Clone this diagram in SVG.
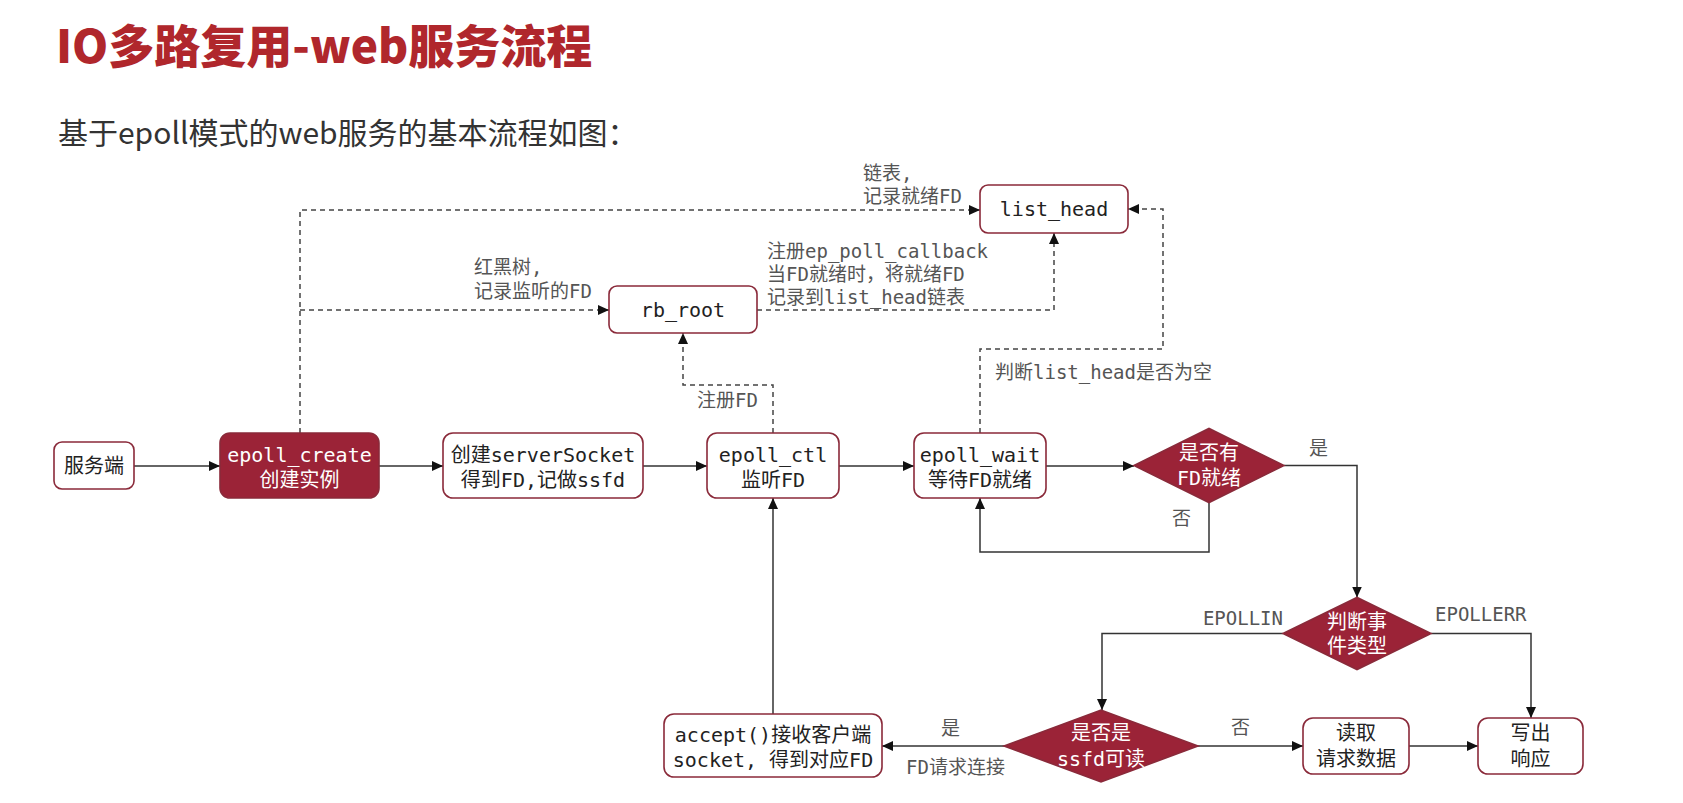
<svg xmlns="http://www.w3.org/2000/svg" width="1683" height="803" viewBox="0 0 1683 803">
<defs>
<marker id="ah" markerUnits="userSpaceOnUse" markerWidth="12" markerHeight="10" refX="11" refY="5" orient="auto">
<path d="M0,0 L11,5 L0,10 z" fill="#111"/>
</marker>
<style>
.title{font-family:"Noto Sans CJK SC","Noto Sans",sans-serif;font-weight:900;font-size:46px;fill:#b0272c}
.sub{font-family:"Noto Sans CJK SC","Noto Sans",sans-serif;font-size:30px;fill:#333}
.box{fill:#fff;stroke:#8a2a3a;stroke-width:1.6}
.dark{fill:#9b2337;stroke:#8a2a3a;stroke-width:1.6}
.t{font-family:"DejaVu Sans Mono","Noto Sans CJK SC",monospace;font-size:20px;fill:#222;text-anchor:middle}
.tw{font-family:"DejaVu Sans Mono","Noto Sans CJK SC",monospace;font-size:20px;fill:#fff;text-anchor:middle}
.lbl{font-family:"DejaVu Sans Mono","Noto Sans CJK SC",monospace;font-size:19px;fill:#555}
.ln{fill:none;stroke:#333;stroke-width:1.5;marker-end:url(#ah)}
.dl{fill:none;stroke:#444;stroke-width:1.5;stroke-dasharray:5 4;marker-end:url(#ah)}
.dn{fill:none;stroke:#444;stroke-width:1.5;stroke-dasharray:5 4}
</style>
</defs>
<rect width="1683" height="803" fill="#fff"/>
<text class="title" x="56" y="63">IO多路复用-web服务流程</text>
<text class="sub" x="58" y="144">基于epoll模式的web服务的基本流程如图：</text>

<g id="connectors">
<path class="ln" d="M134,466 H220"/>
<path class="ln" d="M379,466 H443"/>
<path class="ln" d="M643,466 H707"/>
<path class="ln" d="M839,466 H914"/>
<path class="ln" d="M1046,466 H1134"/>
<path class="ln" d="M1284,465.5 H1357 V597.5"/>
<path class="ln" d="M1209,502.5 V552 H980 V498"/>
<path class="ln" d="M1283,633.5 H1102 V710"/>
<path class="ln" d="M1431,633.5 H1531 V718"/>
<path class="ln" d="M1004,746 H882"/>
<path class="ln" d="M1198,746 H1303"/>
<path class="ln" d="M1409,746 H1478"/>
<path class="ln" d="M773,714 V498"/>
<path class="dl" d="M300,433 V210 H980"/>
<path class="dl" d="M300,310 H609"/>
<path class="dl" d="M757,310 H1054 V233"/>
<path class="dl" d="M773,433 V385 H683 V333"/>
<path class="dl" d="M980,433 V349 H1163 V209 H1128"/>
<text class="lbl" x="863" y="180">链表,</text>
<text class="lbl" x="863" y="203">记录就绪FD</text>
<text class="lbl" x="474" y="274">红黑树,</text>
<text class="lbl" x="474" y="298">记录监听的FD</text>
<text class="lbl" x="767" y="258">注册ep_poll_callback</text>
<text class="lbl" x="767" y="281">当FD就绪时，将就绪FD</text>
<text class="lbl" x="767" y="304">记录到list_head链表</text>
<text class="lbl" x="758" y="407" text-anchor="end">注册FD</text>
<text class="lbl" x="995" y="379">判断list_head是否为空</text>
<text class="lbl" x="1309" y="455">是</text>
<text class="lbl" x="1172" y="525">否</text>
<text class="lbl" x="1283" y="625" text-anchor="end">EPOLLIN</text>
<text class="lbl" x="1435" y="621">EPOLLERR</text>
<text class="lbl" x="941" y="735">是</text>
<text class="lbl" x="1231" y="734">否</text>
<text class="lbl" x="906" y="774">FD请求连接</text>
</g>

<g id="n-server"><rect class="box" x="54" y="442" width="80" height="47" rx="8"/><text class="t" x="94" y="473">服务端</text></g>
<g id="n-create"><rect class="dark" x="220" y="433" width="159" height="65" rx="10"/><text class="tw" x="299.5" y="462">epoll_create</text><text class="tw" x="299.5" y="487">创建实例</text></g>
<g id="n-socket"><rect class="box" x="443" y="433" width="200" height="65" rx="10"/><text class="t" x="543" y="462">创建serverSocket</text><text class="t" x="543" y="487">得到FD,记做ssfd</text></g>
<g id="n-ctl"><rect class="box" x="707" y="433" width="132" height="65" rx="10"/><text class="t" x="773" y="462">epoll_ctl</text><text class="t" x="773" y="487">监听FD</text></g>
<g id="n-wait"><rect class="box" x="914" y="433" width="132" height="65" rx="10"/><text class="t" x="980" y="462">epoll_wait</text><text class="t" x="980" y="487">等待FD就绪</text></g>
<g id="n-d1"><polygon class="dark" points="1134,465.5 1209,428.5 1284,465.5 1209,502.5"/><text class="tw" x="1209" y="460">是否有</text><text class="tw" x="1209" y="485">FD就绪</text></g>
<g id="n-rb"><rect class="box" x="609" y="286" width="148" height="47" rx="8"/><text class="t" x="683" y="317">rb_root</text></g>
<g id="n-list"><rect class="box" x="980" y="185" width="148" height="48" rx="8"/><text class="t" x="1054" y="216">list_head</text></g>
<g id="n-d2"><polygon class="dark" points="1283,633.5 1357,597.5 1431,633.5 1357,669.5"/><text class="tw" x="1357" y="629">判断事</text><text class="tw" x="1357" y="653">件类型</text></g>
<g id="n-d3"><polygon class="dark" points="1004,746 1101,710 1198,746 1101,782"/><text class="tw" x="1101" y="740">是否是</text><text class="tw" x="1101" y="766">ssfd可读</text></g>
<g id="n-accept"><rect class="box" x="664" y="714" width="218" height="63" rx="10"/><text class="t" x="773" y="742">accept()接收客户端</text><text class="t" x="773" y="767">socket, 得到对应FD</text></g>
<g id="n-read"><rect class="box" x="1303" y="718" width="106" height="56" rx="10"/><text class="t" x="1356" y="740">读取</text><text class="t" x="1356" y="766">请求数据</text></g>
<g id="n-write"><rect class="box" x="1478" y="718" width="105" height="56" rx="10"/><text class="t" x="1530.5" y="740">写出</text><text class="t" x="1530.5" y="766">响应</text></g>
</svg>
